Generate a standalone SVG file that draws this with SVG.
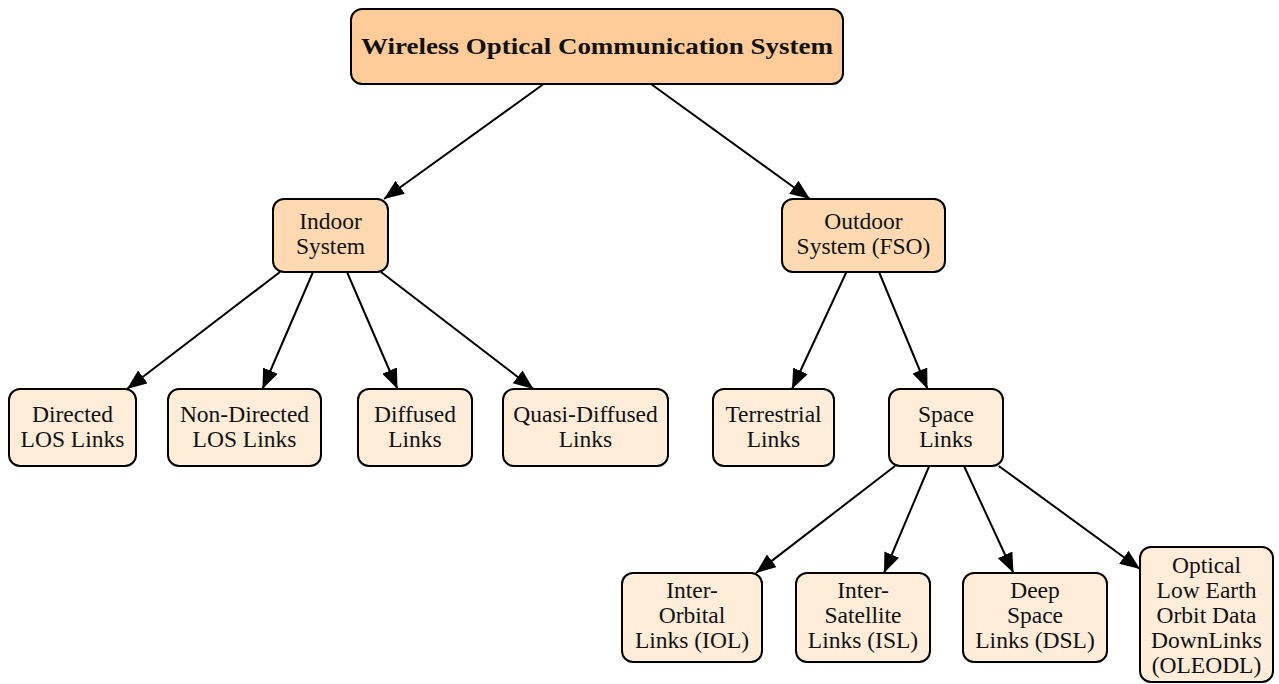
<svg xmlns="http://www.w3.org/2000/svg" width="1279" height="684" viewBox="0 0 1279 684">
<style>
.box{stroke:#000;stroke-width:2}
.l1{fill:#FFCC99}
.l2{fill:#FFD9B2}
.l3{fill:#FFECD9}
text{font-family:'Liberation Serif','Times New Roman','DejaVu Serif',serif;font-size:23.5px;font-weight:400;font-style:normal;fill:#111;text-anchor:middle}
text.b{font-weight:700;font-size:24px}
.c line{stroke:#000;stroke-width:2;marker-end:url(#ah)}
</style>
<defs>
<marker id="ah" markerUnits="userSpaceOnUse" markerWidth="21" markerHeight="17" refX="20" refY="8" orient="auto" viewBox="0 0 21 17">
<path d="M0,0 L20,8 L0,16 z" fill="#000"/>
</marker>
</defs>
<rect width="1279" height="684" fill="#fff"/>
<g class="c" id="connectors">
<line x1="543.6" y1="84" x2="384" y2="199"/>
<line x1="651" y1="84" x2="810" y2="199"/>
<line x1="280" y1="272" x2="127" y2="389"/>
<line x1="313" y1="272" x2="262.5" y2="389"/>
<line x1="347" y1="272" x2="397.5" y2="389"/>
<line x1="381" y1="272" x2="533.5" y2="389"/>
<line x1="846.4" y1="272" x2="792" y2="389"/>
<line x1="879" y1="272" x2="927.5" y2="389"/>
<line x1="895" y1="466" x2="756" y2="573"/>
<line x1="929.2" y1="466" x2="884" y2="573"/>
<line x1="964" y1="466" x2="1013.5" y2="573"/>
<line x1="998.8" y1="466" x2="1140" y2="569"/>
</g>
<g id="root">
<rect class="box l1" x="351" y="9" width="492" height="75" rx="11"/>
<text class="b" x="597" y="54" textLength="472" lengthAdjust="spacingAndGlyphs">Wireless Optical Communication System</text>
</g>
<g id="indoor">
<rect class="box l2" x="273" y="199" width="115" height="73" rx="11"/>
<text x="330.5" y="229">Indoor</text>
<text x="330.5" y="254">System</text>
</g>
<g id="outdoor">
<rect class="box l2" x="782" y="199" width="163" height="73" rx="11"/>
<text x="863.5" y="229">Outdoor</text>
<text x="863.5" y="254">System (FSO)</text>
</g>
<g id="directed">
<rect class="box l3" x="9" y="389" width="127" height="77" rx="11"/>
<text x="72.5" y="422">Directed</text>
<text x="72.5" y="447">LOS Links</text>
</g>
<g id="nondirected">
<rect class="box l3" x="168" y="389" width="153" height="77" rx="11"/>
<text x="244.5" y="422">Non-Directed</text>
<text x="244.5" y="447">LOS Links</text>
</g>
<g id="diffused">
<rect class="box l3" x="358" y="389" width="114" height="77" rx="11"/>
<text x="415" y="422">Diffused</text>
<text x="415" y="447">Links</text>
</g>
<g id="quasi">
<rect class="box l3" x="503" y="389" width="165" height="77" rx="11"/>
<text x="585.5" y="422">Quasi-Diffused</text>
<text x="585.5" y="447">Links</text>
</g>
<g id="terrestrial">
<rect class="box l3" x="713" y="389" width="121" height="77" rx="11"/>
<text x="773.5" y="422">Terrestrial</text>
<text x="773.5" y="447">Links</text>
</g>
<g id="space">
<rect class="box l3" x="889" y="389" width="114" height="77" rx="11"/>
<text x="946" y="422">Space</text>
<text x="946" y="447">Links</text>
</g>
<g id="iol">
<rect class="box l3" x="622" y="573" width="140" height="89" rx="11"/>
<text x="692" y="598">Inter-</text>
<text x="692" y="623">Orbital</text>
<text x="692" y="648">Links (IOL)</text>
</g>
<g id="isl">
<rect class="box l3" x="796" y="573" width="134" height="89" rx="11"/>
<text x="863" y="598">Inter-</text>
<text x="863" y="623">Satellite</text>
<text x="863" y="648">Links (ISL)</text>
</g>
<g id="dsl">
<rect class="box l3" x="963" y="573" width="144" height="89" rx="11"/>
<text x="1035" y="598">Deep</text>
<text x="1035" y="623">Space</text>
<text x="1035" y="648">Links (DSL)</text>
</g>
<g id="oleodl">
<rect class="box l3" x="1140" y="547" width="133" height="135" rx="11"/>
<text x="1206.5" y="573">Optical</text>
<text x="1206.5" y="598">Low Earth</text>
<text x="1206.5" y="623">Orbit Data</text>
<text x="1206.5" y="648">DownLinks</text>
<text x="1206.5" y="673">(OLEODL)</text>
</g>
</svg>
